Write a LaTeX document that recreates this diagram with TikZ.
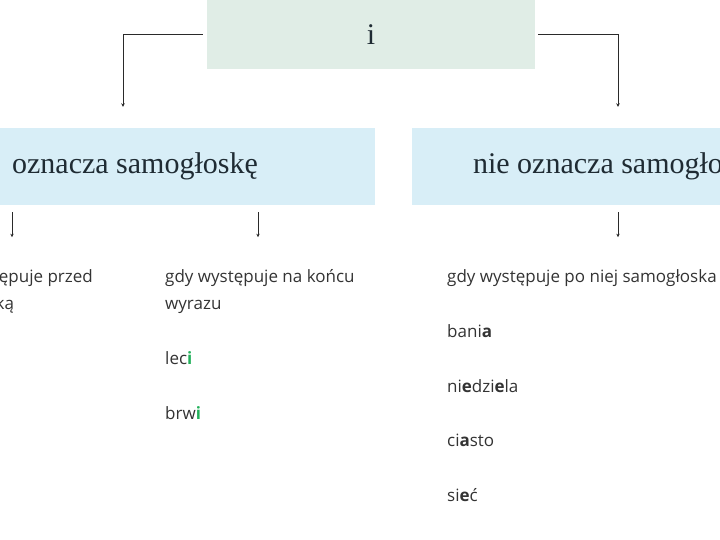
\documentclass[tikz,border=0pt]{standalone}
\usepackage{fontspec}
\setmainfont{Open Sans}
\newfontfamily\headfont{Liberation Serif}
\usetikzlibrary{arrows.meta,calc}
\definecolor{topfill}{HTML}{E0EDE6}
\definecolor{boxfill}{HTML}{D8EEF7}
\definecolor{headtxt}{HTML}{1F2B33}
\definecolor{bodytxt}{HTML}{333333}
\definecolor{hlgreen}{HTML}{22B05A}
\definecolor{linec}{HTML}{2A2A2A}
\begin{document}
\begin{tikzpicture}[x=1pt,y=-1pt,
  headbox/.style={fill=boxfill,draw=none,minimum height=77pt,inner sep=0pt,
    font=\headfont\fontsize{30}{34}\selectfont,text=headtxt},
  topbox/.style={fill=topfill,draw=none,minimum height=69pt,inner sep=0pt,
    font=\headfont\fontsize{30}{34}\selectfont,text=headtxt},
  body/.style={font=\fontsize{17}{20}\selectfont,text=bodytxt,inner sep=0pt},
  conn/.style={draw=linec,line width=1pt,-{Stealth[length=3.5pt,width=3.5pt]}}]
\useasboundingbox (0,0) rectangle (720,540);
\clip (0,0) rectangle (720,540);
% boxes
\node[topbox,minimum width=328pt] (top) at (371,34.5) {i};
\node[headbox,minimum width=504pt] (lb) at (123,166.5) {\hspace*{24pt}oznacza samogłoskę};
\node[headbox,minimum width=412pt] (rb) at (618,166.5) {nie oznacza samogłoskę};
% top connectors
\coordinate (lend) at ($(lb.north)+(0,-21)$);
\coordinate (rend) at ($(rb.north)+(0,-21)$);
\draw[conn,shorten <=4pt] (top.west) -| (lend);
\draw[conn,shorten <=3pt] (top.east) -| (rend);
% small arrows
\coordinate (a1s) at ($(lb.south)+(-111,7)$);
\coordinate (a1e) at ($(lb.south)+(-111,32)$);
\coordinate (a2s) at ($(lb.south)+(135,7)$);
\coordinate (a2e) at ($(lb.south)+(135,32)$);
\coordinate (a3s) at ($(rb.south)+(0,7)$);
\coordinate (a3e) at ($(rb.south)+(0,32)$);
\draw[conn] (a1s) -- (a1e);
\draw[conn] (a2s) -- (a2e);
\draw[conn] (a3s) -- (a3e);
% left column
\node[body,anchor=base east] (l1) at (93,282) {gdy występuje przed};
\node[body,anchor=base west] (l2) at ($(l1.base west)+(0,27)$) {spółgłoską};
% middle column
\node[body,anchor=base west] (m1) at (165,282) {gdy występuje na końcu};
\node[body,anchor=base west] (m2) at (165,309) {wyrazu};
\node[body,anchor=base west] (m3) at (165,364) {lec\textcolor{hlgreen}{\bfseries i}};
\node[body,anchor=base west] (m4) at (165,419) {brw\textcolor{hlgreen}{\bfseries i}};
% right column
\node[body,anchor=base west] (r1) at (447,282) {gdy występuje po niej samogłoska};
\node[body,anchor=base west] (r2) at (447,337) {bani\textbf{a}};
\node[body,anchor=base west] (r3) at (447,392) {ni\textbf{e}dzi\textbf{e}la};
\node[body,anchor=base west] (r4) at (447,446) {ci\textbf{a}sto};
\node[body,anchor=base west] (r5) at (447,501) {si\textbf{e}ć};
\end{tikzpicture}
\end{document}
